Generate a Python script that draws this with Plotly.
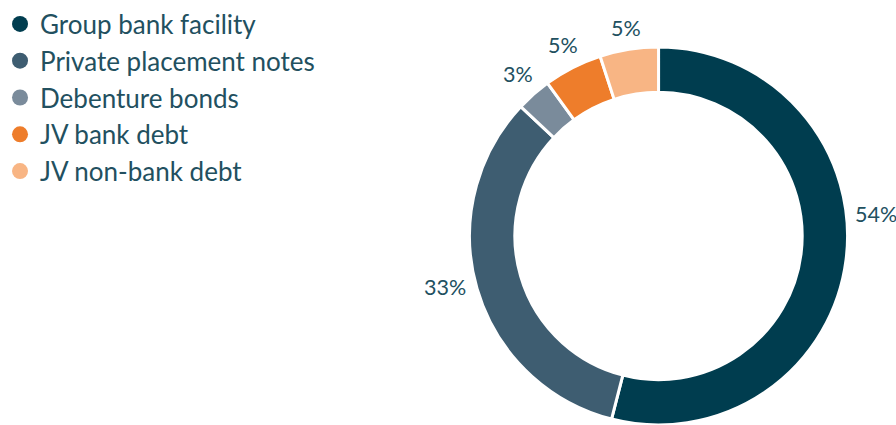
import math
import plotly.graph_objects as go

labels = ["Group bank facility", "Private placement notes", "Debenture bonds", "JV bank debt", "JV non-bank debt"]
values = [54, 33, 3, 5, 5]
colors = ["#003d4f", "#3e5d71", "#7a8b9b", "#ee7d2b", "#f8b584"]
text_color = "#22505f"
font_family = "Lato, 'Open Sans', sans-serif"

# layout geometry (pixels)
W, H = 896, 425
top_margin = 45
cx_px = 654.5
plot_h = H - top_margin
radius = plot_h / 2
cy_px = top_margin + radius
label_fs = 21.5
label_gap = 10
label_angle_nudge = [-13, 3, 0, 0, 0]  # degrees, label placement tweak

dom_half = (plot_h + 60) / 2 / W
dom_c = cx_px / W
fig = go.Figure()
fig.add_trace(go.Pie(
    labels=labels, values=values, sort=False, direction="clockwise", rotation=0,
    hole=0.76, marker=dict(colors=colors, line=dict(color="white", width=3)),
    textinfo="none", hoverinfo="label+percent",
    showlegend=False, domain=dict(x=[dom_c - dom_half, min(1.0, dom_c + dom_half)], y=[0, 1]),
))
for lab, col in zip(labels, colors):
    fig.add_trace(go.Scatter(
        x=[None], y=[None], mode="markers", name=lab,
        marker=dict(symbol="circle", size=16, color=col),
    ))

# percentage labels outside the ring, at each slice's mid-angle
total = sum(values)
cum = 0
annotations = []
for v, nudge in zip(values, label_angle_nudge):
    pct = v / total
    mid = (cum + pct / 2) * 360 + nudge
    cum += pct
    a = math.radians(mid)
    s, c = math.sin(a), math.cos(a)
    txt = f"{round(pct * 100)}%"
    hw = (0.58 * (len(txt) - 1) + 0.84) * label_fs / 2
    hh = 9
    d = radius + label_gap + abs(s) * hw + abs(c) * hh
    px = cx_px + d * s
    py = cy_px - d * c
    annotations.append(dict(
        x=px / W, y=(H - py) / plot_h, xref="paper", yref="paper",
        text=txt, showarrow=False, xanchor="center", yanchor="middle",
        font=dict(size=label_fs, color=text_color, family=font_family),
    ))

fig.update_layout(
    width=W, height=H,
    margin=dict(l=0, r=0, t=top_margin, b=0),
    paper_bgcolor="white", plot_bgcolor="white",
    xaxis=dict(visible=False), yaxis=dict(visible=False),
    annotations=annotations,
    legend=dict(x=-0.017, y=1.123, xanchor="left", yanchor="top",
                font=dict(size=26, color=text_color, family=font_family),
                tracegroupgap=0, itemwidth=30, bgcolor="rgba(0,0,0,0)"),
)
fig.write_html("out.html")
